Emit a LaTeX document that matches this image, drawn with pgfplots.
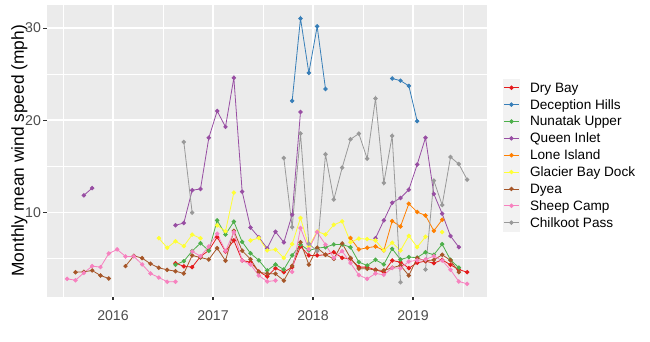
\documentclass[border=0pt]{standalone}
\usepackage{fontspec}
\setmainfont{Liberation Sans}
\usepackage{pgfplots}
\pgfplotsset{compat=1.18}

\definecolor{drybay}{HTML}{E41A1C}
\definecolor{deception}{HTML}{377EB8}
\definecolor{nunatak}{HTML}{4DAF4A}
\definecolor{queen}{HTML}{984EA3}
\definecolor{lone}{HTML}{FF7F00}
\definecolor{glacier}{HTML}{FFFF33}
\definecolor{dyea}{HTML}{A65628}
\definecolor{sheep}{HTML}{F781BF}
\definecolor{chilkoot}{HTML}{999999}
\definecolor{panelgray}{HTML}{EBEBEB}
\definecolor{keygray}{HTML}{F2F2F2}
\definecolor{tickgray}{HTML}{333333}
\definecolor{labgray}{HTML}{4D4D4D}

\begin{document}
\begin{tikzpicture}
\path[use as bounding box] (0,0) rectangle (487.5pt,256.5pt);
\begin{axis}[
    at={(35pt,34.1pt)}, anchor=south west,
    scale only axis, width=330pt, height=218.6pt,
    xmin=-7.96, xmax=44.84, ymin=0.87, ymax=32.5,
    xtick={0,12,24,36}, xticklabels={\mbox{2016},\mbox{2017},\mbox{2018},\mbox{2019}},
    minor xtick={-6,6,18,30,42},
    ytick={10,20,30}, minor ytick={5,15,25},
    /pgf/number format/assume math mode=true,
    grid=both,
    major grid style={white, line width=1.3pt},
    minor grid style={white, line width=0.65pt},
    axis background/.style={fill=panelgray},
    axis line style={draw=none},
    tick align=outside, tick pos=left,
    major tick length=2.6pt, minor tick length=0pt,
    tick style={color=tickgray, line width=0.8pt},
    ticklabel style={font=\fontsize{10.6}{12}\selectfont, text=labgray, inner sep=1.5pt},
    xticklabel style={yshift=-6pt},
    ylabel={Monthly mean wind speed (mph)},
    ylabel style={font=\fontsize{13}{15}\selectfont, at={(axis description cs:-0.062,0.5)}, anchor=center},
    unbounded coords=jump,
    every axis plot/.append style={line width=0.6pt, mark=*, mark size=1.35pt},
    legend style={at={(1.036,0.485)}, anchor=west, draw=none, fill=none,
        font=\fontsize{10.2}{12}\selectfont, row sep=0pt, column sep=7.5pt,
        inner sep=0pt, nodes={inner sep=0pt, anchor=base west, text height=7.4pt, text depth=1.8pt}},
    legend cell align=left,
    legend image code/.code={
        \fill[keygray, draw=none, overlay] (0pt,-3.4pt) rectangle (13pt,10.1pt);
        \path[draw=none, fill=none] (0pt,-3pt) rectangle (13pt,9.65pt);
        \draw[#1, mark repeat=2, mark phase=2] plot coordinates {(1pt,3.3pt) (6.5pt,3.3pt) (12pt,3.3pt)};
    },
]

% Dry Bay
\addplot[color=drybay] coordinates {
(7.5,4.49) (8.5,4.15) (9.5,4.06) (10.5,5.22) (11.5,5.87) (12.5,7.32) (13.5,5.76)
(14.5,6.96) (15.5,4.78) (16.5,4.6) (17.5,3.59) (18.5,3.04) (19.5,3.95) (20.5,3.51)
(21.5,4.06) (22.5,6.3) (23.5,5.33) (24.5,5.33) (25.5,5.4) (26.5,5.68) (27.5,5.07)
(28.5,4.96) (29.5,4.06) (30.5,4.06) (31.5,3.77) (32.5,3.51) (33.5,4.78) (34.5,4.6)
(35.5,3.95) (36.5,4.53) (37.5,4.71) (38.5,4.49) (39.5,4.85) (40.5,4.31) (41.5,3.8)
(42.5,3.51)
};
\addlegendentry{Dry Bay}

% Deception Hills
\addplot[color=deception] coordinates {
(21.5,22.1) (22.5,31.05) (23.5,25.14) (24.5,30.18) (25.5,23.4) (29.5,nan)
(33.5,24.53) (34.5,24.3) (35.5,23.73) (36.5,19.9)
};
\addlegendentry{Deception Hills}

% Nunatak Upper
\addplot[color=nunatak] coordinates {
(7.5,4.31) (8.5,4.71) (9.5,5.8) (10.5,6.66) (11.5,5.84) (12.5,9.13) (13.5,7.6)
(14.5,9.0) (15.5,6.8) (16.5,5.56) (17.5,4.8) (18.5,3.7) (19.5,4.35) (20.5,3.8)
(21.5,5.33) (22.5,6.52) (23.5,5.87) (24.5,6.12) (25.5,6.23) (26.5,6.52) (27.5,6.52)
(28.5,6.23) (29.5,4.6) (30.5,4.24) (31.5,4.85) (32.5,4.35) (33.5,6.05) (34.5,4.89)
(35.5,5.14) (36.5,5.1) (37.5,5.68) (38.5,5.4) (39.5,6.55) (40.5,4.85) (41.5,4.0)
};
\addlegendentry{Nunatak Upper}

% Queen Inlet
\addplot[color=queen] coordinates {
(-3.5,11.85) (-2.5,12.64) (2,nan)
(7.5,8.6) (8.5,8.85) (9.5,12.4) (10.5,12.55) (11.5,18.1) (12.5,21.0) (13.5,19.28)
(14.5,24.6) (15.5,12.25) (16.5,8.35) (17.5,7.3) (18.5,6.1) (19.5,7.9) (20.5,6.75)
(21.5,9.75) (22.5,20.9) (27,nan)
(31.5,7.2) (32.5,9.13) (33.5,11.05) (34.5,11.56) (35.5,12.46) (36.5,15.2)
(37.5,18.1) (38.5,12.0) (39.5,9.86) (40.5,7.43) (41.5,6.23)
};
\addlegendentry{Queen Inlet}

% Lone Island
\addplot[color=lone] coordinates {
(28.5,7.21) (29.5,5.98) (30.5,6.16) (31.5,6.3) (32.5,5.87) (33.5,9.06) (34.5,8.48)
(35.5,10.94) (36.5,10.04) (37.5,9.67) (38.5,8.0) (39.5,9.2)
};
\addlegendentry{Lone Island}

% Glacier Bay Dock
\addplot[color=glacier] coordinates {
(5.5,7.2) (6.5,6.16) (7.5,6.87) (8.5,6.34) (9.5,7.58) (10.5,7.2) (11.5,nan)
(12.5,8.59) (13.5,7.95) (14.5,12.15) (15.5,nan)
(16.5,6.96) (17.5,7.22) (18.5,5.87) (19.5,5.96) (20.5,5.05) (21.5,6.56) (22.5,9.4)
(23.5,6.3) (24.5,7.93) (25.5,7.6) (26.5,8.66) (27.5,9.02) (28.5,6.77) (29.5,7.16)
(30.5,7.1) (31.5,6.96) (32.5,5.87) (33.5,6.71) (34.5,5.87) (35.5,7.45) (36.5,6.23)
(37.5,7.35) (38.5,nan) (39.5,7.86)
};
\addlegendentry{Glacier Bay Dock}

% Dyea
\addplot[color=dyea] coordinates {
(-4.5,3.51) (-3.5,3.55) (-2.5,3.7) (-1.5,3.15) (-0.5,2.83) (0.5,nan)
(1.5,4.17) (2.5,5.29) (3.5,5.04) (4.5,4.42) (5.5,3.99) (6.5,3.77) (7.5,3.62)
(8.5,3.37) (9.5,5.33) (10.5,5.1) (11.5,4.89) (12.5,6.12) (13.5,4.75) (14.5,8.0)
(15.5,5.84) (16.5,4.92) (17.5,3.51) (18.5,3.37) (19.5,3.33) (20.5,2.6) (21.5,4.2)
(22.5,6.77) (23.5,4.33) (24.5,6.16) (25.5,5.4) (26.5,4.96) (27.5,6.63) (28.5,5.05)
(29.5,3.9) (30.5,3.88) (31.5,3.75) (32.5,3.7) (33.5,3.99) (34.5,4.24) (35.5,3.15)
(36.5,5.05) (37.5,4.75) (38.5,4.85) (39.5,5.4) (40.5,4.8) (41.5,3.51)
};
\addlegendentry{Dyea}

% Sheep Camp
\addplot[color=sheep] coordinates {
(-5.5,2.79) (-4.5,2.64) (-3.5,3.44) (-2.5,4.17) (-1.5,4.06) (-0.5,5.54) (0.5,5.98)
(1.5,5.22) (2.5,5.22) (3.5,4.35) (4.5,3.37) (5.5,2.93) (6.5,2.47) (7.5,2.47)
(8.5,nan)
(9.5,5.76) (10.5,5.25) (11.5,6.3) (12.5,7.68) (13.5,5.8) (14.5,7.86) (15.5,4.78)
(16.5,4.35) (17.5,3.15) (18.5,2.5) (19.5,2.6) (20.5,nan)
(21.5,3.55) (22.5,8.3) (23.5,6.0) (24.5,7.86) (25.5,6.5) (26.5,5.05) (27.5,5.8)
(28.5,4.5) (29.5,3.2) (30.5,2.79) (31.5,3.37) (32.5,3.23) (33.5,3.97) (34.5,3.95)
(35.5,4.67) (36.5,4.8) (37.5,4.9) (38.5,5.25) (39.5,4.78) (40.5,3.77) (41.5,2.5)
(42.5,2.25)
};
\addlegendentry{Sheep Camp}

% Chilkoot Pass
\addplot[color=chilkoot] coordinates {
(8.5,17.64) (9.5,9.97) (15,nan)
(20.5,15.9) (21.5,8.4) (22.5,18.55) (23.5,6.6) (24.5,5.8) (25.5,16.3) (26.5,11.4)
(27.5,14.86) (28.5,17.93) (29.5,18.55) (30.5,15.83) (31.5,22.36) (32.5,13.2)
(33.5,18.3) (34.5,2.43) (36,nan)
(37.5,3.8) (38.5,13.45) (39.5,10.8) (40.5,16.0) (41.5,15.25) (42.5,13.55)
};
\addlegendentry{Chilkoot Pass}

\end{axis}
\end{tikzpicture}
\end{document}
